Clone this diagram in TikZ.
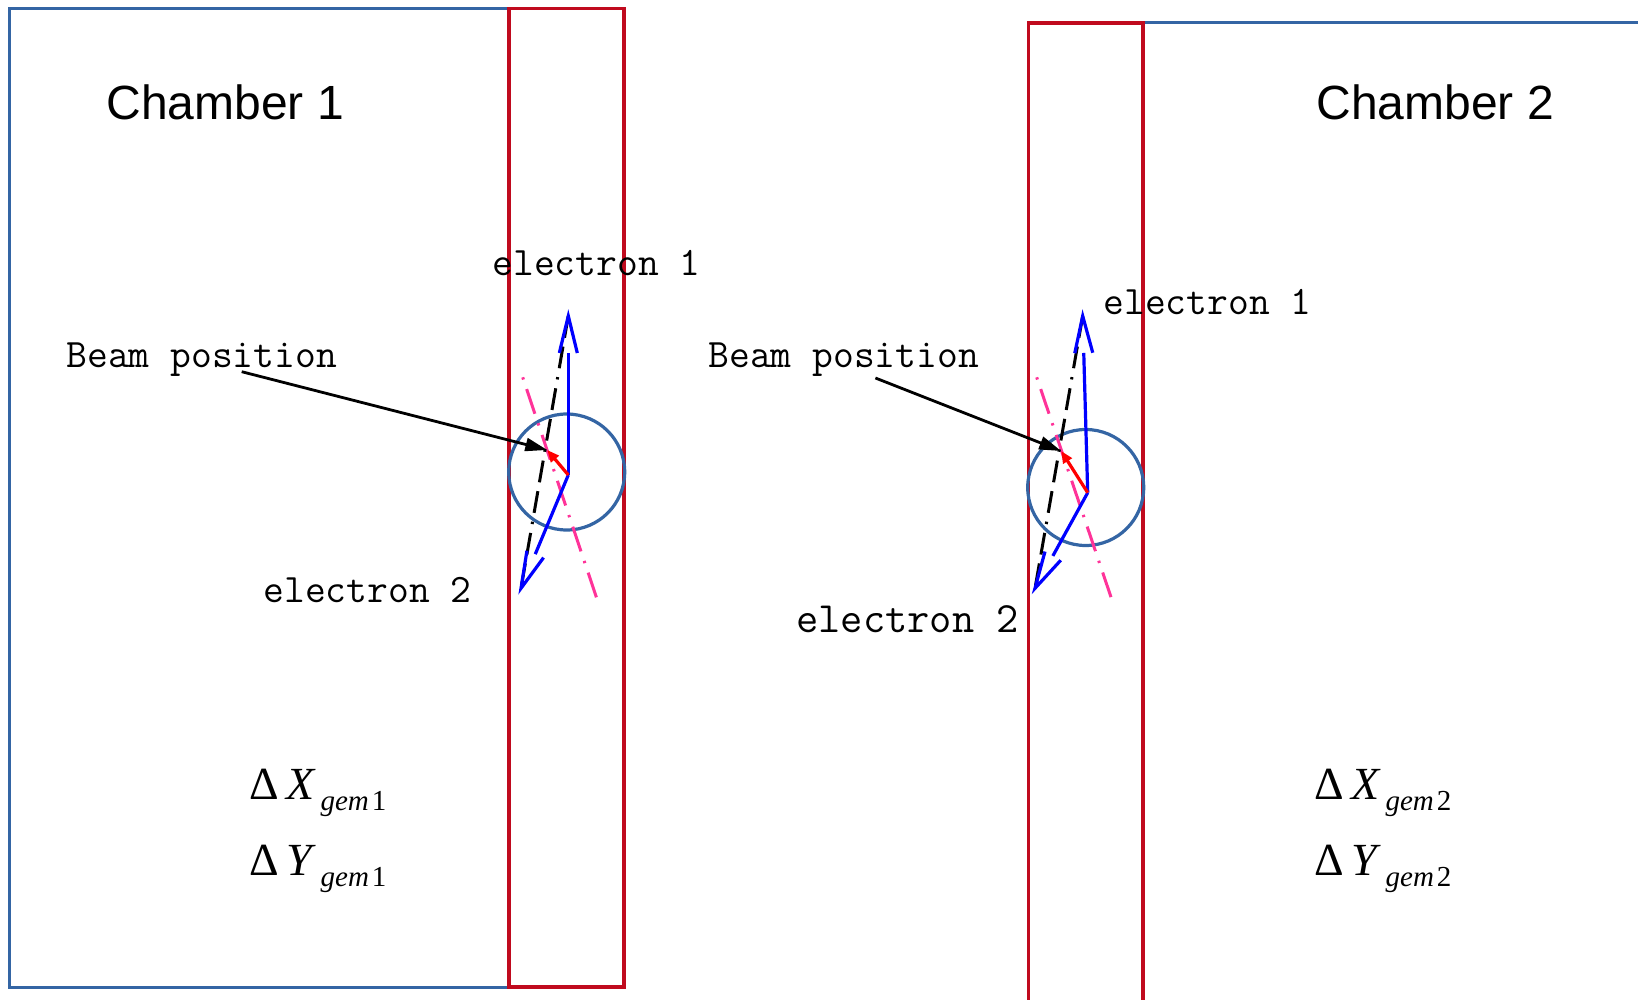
\documentclass[tikz,border=0pt]{standalone}
\usepackage{fontspec}
\newfontfamily\chamberfont{Liberation Sans}
\newfontfamily\gemfont{Liberation Serif}
\usetikzlibrary{calc,arrows.meta}
\definecolor{frameblue}{HTML}{3465A4}
\definecolor{gemred}{HTML}{C00A1E}
\definecolor{hotpink}{HTML}{FF3399}
\tikzset{
  chamberframe/.style={draw=frameblue, line width=1.5pt},
  gemframe/.style={draw=gemred, line width=1.75pt},
  beamspot/.style={draw=frameblue, line width=1.6pt, circle, minimum size=58pt, inner sep=0pt},
  chambertitle/.style={anchor=base west, inner sep=0pt, font=\chamberfont\fontsize{24}{24}\selectfont},
  monolabel/.style={anchor=base west, inner sep=0pt, font=\ttfamily\fontsize{20.2}{20.2}\selectfont},
  gemlabel/.style={anchor=base west, inner sep=0pt, font=\gemfont\fontsize{23}{23}\selectfont},
  electronvec/.style={draw=blue, line width=1.6pt},
  shiftvec/.style={draw=red, line width=1.6pt, -{Triangle[length=6pt,width=5pt]}},
  beamarrow/.style={draw=black, line width=1.4pt, -{Triangle[length=11pt,width=6.5pt]}},
  trackline/.style={draw=black, line width=1.5pt, dash pattern=on 11pt off 4.5pt on 11pt off 4.5pt on 1.2pt off 4.5pt},
  pinkline/.style={draw=hotpink, line width=1.5pt, dash pattern=on 1.2pt off 5pt on 13pt off 5pt},
}
\newcommand\openvec[2]{%
  \draw[electronvec] (#1) -- ($(#2)!18.5pt!(#1)$);
  \draw[electronvec] ($(#2)!18.5pt!(#1)!4.5pt!90:(#2)$) -- (#2) -- ($(#2)!18.5pt!(#1)!4.5pt!-90:(#2)$);
}
\newcommand\gemsub[1]{\raisebox{-5.5pt}{\fontsize{14.5}{14.5}\selectfont\textit{gem}\hspace{1.5pt}#1}}
\begin{document}
\begin{tikzpicture}[x=0.5pt,y=-0.5pt]
\useasboundingbox (0,0) rectangle (1638,1000);
% frames
\draw[chamberframe] (509,8.4) -- (9.4,8.4) -- (9.4,987) -- (509,987);
\draw[gemframe] (509,8.4) rectangle (624,987);
\draw[chamberframe] (1143,23) -- (1650,23);
\draw[gemframe] (1028.3,1015) -- (1028.3,23) -- (1143,23) -- (1143,1015);
% beam spots
\node[beamspot] (spot1) at (566.7,472) {};
\node[beamspot] (spot2) at (1085.7,487.5) {};
% titles
\node[chambertitle] (ch1) at (106,119.3) {Chamber 1};
\node[chambertitle] (ch2) at (1316,119.3) {Chamber 2};
% labels
\node[monolabel] (e1a) at (492,276) {electron 1};
\node[monolabel] (bp1) at (66,367) {Beam position};
\node[monolabel] (e2a) at (263,602) {electron 2};
\node[monolabel] (bp2) at (708,367) {Beam position};
\node[monolabel] (e1b) at (1103,314.5) {electron 1};
\node[monolabel, font=\ttfamily\fontsize{21.6}{21.6}\selectfont] (e2b) at (796,632) {electron 2};
% gem offsets
\node[gemlabel] (dx1) at (249,799) {Δ\hspace{4pt}\textit{X}\hspace{2pt}\gemsub{1}};
\node[gemlabel] (dy1) at (249,875) {Δ\hspace{4pt}\textit{Y}\hspace{2pt}\gemsub{1}};
\node[gemlabel] (dx2) at (1314,799) {Δ\hspace{4pt}\textit{X}\hspace{2pt}\gemsub{2}};
\node[gemlabel] (dy2) at (1314,875) {Δ\hspace{4pt}\textit{Y}\hspace{2pt}\gemsub{2}};
% geometry chamber 1
\coordinate (v1) at (568.3,475);
\coordinate (up1) at (568.3,316);
\coordinate (dn1) at (521,588.3);
\coordinate (hit1) at (547.3,450);
\coordinate (pk1a) at (522.7,377.3);
\coordinate (pk1b) at (599.3,606);
\coordinate (bs1) at (241.7,371.7);
% geometry chamber 2
\coordinate (v2) at (1087.7,492.7);
\coordinate (up2) at (1082.7,316);
\coordinate (dn2) at (1035,588.3);
\coordinate (hit2) at (1061.2,451);
\coordinate (pk2a) at (1036.7,377.3);
\coordinate (pk2b) at (1114,606);
\coordinate (bs2) at (875.4,378);
% lines chamber 1
\draw[pinkline] (pk1a) -- (pk1b);
\draw[trackline] (up1) -- (dn1);
\openvec{v1}{up1}
\openvec{v1}{dn1}
\draw[shiftvec] (v1) -- (hit1);
\draw[beamarrow] (bs1) -- (hit1);
% lines chamber 2
\draw[pinkline] (pk2a) -- (pk2b);
\draw[trackline] (up2) -- (dn2);
\openvec{v2}{up2}
\openvec{v2}{dn2}
\draw[shiftvec] (v2) -- (hit2);
\draw[beamarrow] (bs2) -- (hit2);
\end{tikzpicture}
\end{document}
